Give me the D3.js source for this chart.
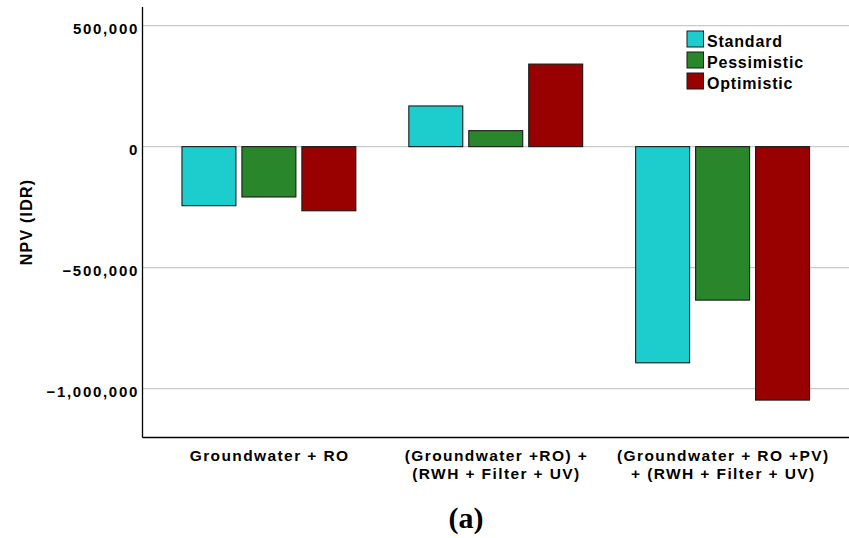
<!DOCTYPE html>
<html>
<head>
<meta charset="utf-8">
<script src="https://cdn.jsdelivr.net/npm/d3@7"></script>
<style>
  body { margin: 0; background: #fff; }
  text { font-family: "Liberation Sans", Arial, sans-serif; font-weight: bold; fill: #000; }
</style>
</head>
<body>
<div id="chart"></div>
<script>
// Data
const categories = [
  ["Groundwater + RO"],
  ["(Groundwater +RO) +", "(RWH + Filter + UV)"],
  ["(Groundwater + RO +PV)", "+ (RWH + Filter + UV)"]
];
const seriesNames = ["Standard", "Pessimistic", "Optimistic"];
const seriesColors = ["#1dcdcd", "#29862a", "#990000"];
const standard = [-244000, 168000, -893000];
const pessimistic = [-208000, 66000, -634000];
const optimistic = [-265000, 341000, -1047000];
const yTicks = [500000, 0, -500000, -1000000];

const W = 849, H = 538;
const plotLeft = 142.5, plotRight = 849, plotTop = 7, plotBottom = 437.5;

const svg = d3.select("#chart").append("svg")
    .attr("width", W)
    .attr("height", H);

const values = [standard, pessimistic, optimistic];
const rows = categories.map((c, i) => ({
  key: i,
  label: c,
  bars: seriesNames.map((s, j) => ({ name: s, value: values[j][i], color: seriesColors[j] }))
}));

const x0 = d3.scaleBand()
    .domain(rows.map(d => d.key))
    .range([plotLeft, plotRight])
    .paddingInner(0.2335)
    .paddingOuter(0.174);

const x1 = d3.scaleBand()
    .domain(seriesNames)
    .range([0, x0.bandwidth()])
    .paddingInner(0.1);

const y = d3.scaleLinear()
    .domain([-1201500, 576800])
    .range([plotBottom, plotTop]);

// grid lines
svg.append("g")
  .selectAll("line")
  .data(yTicks)
  .join("line")
    .attr("x1", plotLeft)
    .attr("x2", plotRight)
    .attr("y1", d => y(d))
    .attr("y2", d => y(d))
    .attr("stroke", "#c9c9c9")
    .attr("stroke-width", 1.2);

// bars
const groups = svg.append("g")
  .selectAll("g")
  .data(rows)
  .join("g")
    .attr("transform", d => `translate(${x0(d.key)},0)`);

groups.selectAll("rect")
  .data(d => d.bars)
  .join("rect")
    .attr("x", d => x1(d.name))
    .attr("width", x1.bandwidth())
    .attr("y", d => y(Math.max(0, d.value)))
    .attr("height", d => Math.abs(y(d.value) - y(0)))
    .attr("fill", d => d.color)
    .attr("stroke", "#1a1a1a")
    .attr("stroke-width", 1.1);

// y axis
const yAxis = svg.append("g")
    .attr("transform", `translate(${plotLeft},0)`)
    .call(d3.axisLeft(y).tickValues(yTicks).tickSize(0).tickPadding(0)
      .tickFormat(d3.format(",")));
yAxis.select(".domain").remove();
yAxis.selectAll("text")
    .attr("x", -3.5)
    .attr("dy", "0.5em")
    .style("font-size", "15px")
    .style("letter-spacing", "1.7px")
    .style("font-family", "'Liberation Sans', Arial, sans-serif")
    .style("font-weight", "bold");

// axis lines
svg.append("line")
    .attr("x1", plotLeft).attr("x2", plotLeft)
    .attr("y1", plotTop).attr("y2", plotBottom)
    .attr("stroke", "#000").attr("stroke-width", 1.3);
svg.append("line")
    .attr("x1", plotLeft).attr("x2", plotRight)
    .attr("y1", plotBottom).attr("y2", plotBottom)
    .attr("stroke", "#000").attr("stroke-width", 1.3);

// x labels
const xl = svg.append("g")
  .selectAll("text")
  .data(rows)
  .join("text")
    .attr("text-anchor", "middle")
    .style("font-size", "15.5px")
    .style("letter-spacing", "1.4px");
xl.selectAll("tspan")
  .data(d => d.label.map(t => ({ t, cx: x0(d.key) + x0.bandwidth() / 2 })))
  .join("tspan")
    .attr("x", d => d.cx + 0.7)
    .attr("y", (d, i) => 461 + i * 18)
    .text(d => d.t);

// y axis title
svg.append("text")
    .attr("transform", "translate(31.5,222) rotate(-90)")
    .attr("text-anchor", "middle")
    .style("font-size", "16px")
    .style("letter-spacing", "1.2px")
    .text("NPV (IDR)");

// legend
const legend = svg.append("g")
    .attr("transform", "translate(687,31)");
const li = legend.selectAll("g")
  .data(seriesNames)
  .join("g")
    .attr("transform", (d, i) => `translate(0,${i * 21})`);
li.append("rect")
    .attr("width", 16.5)
    .attr("height", 16)
    .attr("fill", (d, i) => seriesColors[i])
    .attr("stroke", "#1a1a1a")
    .attr("stroke-width", 1);
li.append("text")
    .attr("x", 20)
    .attr("y", 15.5)
    .style("font-size", "16px")
    .style("letter-spacing", "0.8px")
    .text(d => d);

// panel caption
svg.append("text")
    .attr("x", 466)
    .attr("y", 528)
    .attr("text-anchor", "middle")
    .style("font-family", "'Liberation Serif', 'Times New Roman', serif")
    .style("font-size", "30px")
    .text("(a)");
</script>
</body>
</html>
